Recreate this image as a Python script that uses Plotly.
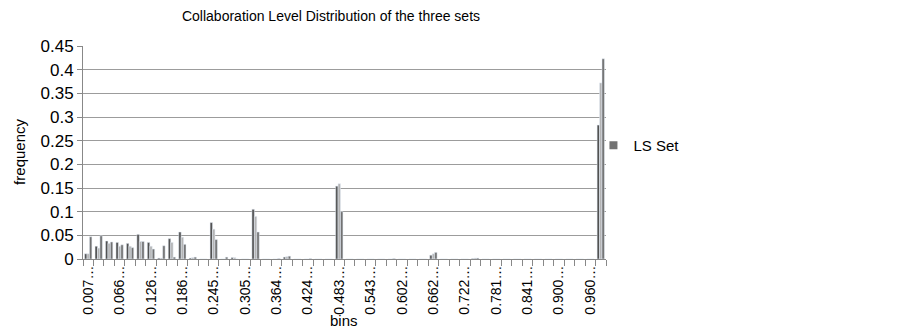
import plotly.graph_objects as go

# Bin categories (lower edges of the collaboration-level bins)
bins = ["0.0070", "0.0269", "0.0467", "0.0666", "0.0864", "0.1063", "0.1261", "0.1460",
        "0.1658", "0.1857", "0.2055", "0.2254", "0.2452", "0.2651", "0.2850", "0.3048",
        "0.3247", "0.3445", "0.3644", "0.3842", "0.4041", "0.4239", "0.4438", "0.4636",
        "0.4835", "0.5034", "0.5232", "0.5431", "0.5629", "0.5828", "0.6026", "0.6225",
        "0.6423", "0.6622", "0.6820", "0.7019", "0.7217", "0.7416", "0.7615", "0.7813",
        "0.8012", "0.8210", "0.8409", "0.8607", "0.8806", "0.9004", "0.9203", "0.9401",
        "0.9600", "0.9798"]

tick_labels = ["0.007…", "0.066…", "0.126…", "0.186…", "0.245…", "0.305…", "0.364…",
               "0.424…", "0.483…", "0.543…", "0.602…", "0.662…", "0.722…", "0.781…",
               "0.841…", "0.900…", "0.960…"]

set1 = [0.011, 0.027, 0.038, 0.035, 0.033, 0.052, 0.035, 0.002, 0.043, 0.057,
        0.002, 0.0, 0.077, 0.0, 0.003, 0.0, 0.105, 0.0, 0.0, 0.004,
        0.0, 0.0, 0.0, 0.0, 0.154, 0.0, 0.0, 0.0, 0.0, 0.0,
        0.0, 0.0, 0.0, 0.008, 0.0, 0.0, 0.0, 0.001, 0.0, 0.0,
        0.0, 0.0, 0.0, 0.0, 0.0, 0.0, 0.0, 0.0, 0.0, 0.283]

set2 = [0.011, 0.023, 0.033, 0.027, 0.027, 0.037, 0.027, 0.002, 0.035, 0.046,
        0.003, 0.0, 0.063, 0.0, 0.003, 0.0, 0.090, 0.0, 0.0, 0.005,
        0.0, 0.0, 0.0, 0.0, 0.159, 0.0, 0.0, 0.0, 0.0, 0.0,
        0.0, 0.0, 0.0, 0.011, 0.0, 0.0, 0.0, 0.002, 0.0, 0.0,
        0.0, 0.0, 0.0, 0.0, 0.0, 0.0, 0.0, 0.0, 0.0, 0.372]

ls_set = [0.047, 0.049, 0.036, 0.030, 0.024, 0.037, 0.021, 0.028, 0.004, 0.031,
          0.004, 0.0, 0.041, 0.004, 0.0, 0.0, 0.057, 0.0, 0.001, 0.006,
          0.0, 0.001, 0.0, 0.0, 0.100, 0.0, 0.0, 0.0, 0.0, 0.001,
          0.0, 0.0, 0.0, 0.014, 0.0, 0.0, 0.0, 0.002, 0.0, 0.0,
          0.0, 0.0, 0.0, 0.0, 0.0, 0.0, 0.0, 0.0, 0.0, 0.423]

FONT = "Liberation Sans, Arial, sans-serif"
LS_COLOR = "#727272"

# The page body has an 8px margin, so the figure is 8px smaller and offset.
W, H = 895, 323
ML, MT, MR, MB = 75, 38, 297, 72
PH = H - MT - MB

fig = go.Figure()
fig.add_trace(go.Bar(x=bins, y=set1, marker_color="#525252", showlegend=False, name="Set 1"))
fig.add_trace(go.Bar(x=bins, y=set2, marker_color="#b4b4b4", showlegend=False, name="Set 2"))
fig.add_trace(go.Bar(x=bins, y=ls_set, marker_color=LS_COLOR, showlegend=False, name="LS Set"))
# legend entry with a small square symbol
fig.add_trace(go.Scatter(x=[None], y=[None], mode="markers", name="LS Set",
                         marker=dict(symbol="square", size=8, color=LS_COLOR)))

ticktext = []
for i, b in enumerate(bins):
    ticktext.append(tick_labels[i // 3] if i % 3 == 0 else "")

fig.update_layout(
    width=W, height=H,
    margin=dict(l=ML, r=MR, t=MT, b=MB),
    paper_bgcolor="white", plot_bgcolor="white",
    font=dict(family=FONT, color="black"),
    barmode="group", bargap=0.3, bargroupgap=0.0,
    title=dict(text="Collaboration Level Distribution of the three sets",
               x=(331 - 8) / W, xanchor="center", xref="container",
               y=1 - 3.5 / H, yanchor="top", yref="container",
               pad=dict(t=0, b=0, l=0, r=0),
               font=dict(size=14, family=FONT, color="black")),
    legend=dict(x=0.976, y=(259.5 - 146) / PH, xanchor="left", yanchor="middle",
                font=dict(size=15, family=FONT), bgcolor="rgba(0,0,0,0)",
                itemwidth=30),
    xaxis=dict(
        type="category", tickmode="array", tickvals=bins, ticktext=ticktext,
        tickangle=-90, tickson="boundaries", ticks="outside", ticklen=6,
        tickcolor="#888888", showline=True, linecolor="#888888", showgrid=False,
        tickfont=dict(size=14, family=FONT), automargin=False,
    ),
    yaxis=dict(
        range=[0, 0.45], dtick=0.05, tick0=0, ticks="outside", ticklen=5,
        tickcolor="#888888", showline=True, linecolor="#888888",
        showgrid=True, gridcolor="#9c9c9c", gridwidth=1, zeroline=False,
        tickfont=dict(size=17, family=FONT), automargin=False,
    ),
    annotations=[
        dict(text="frequency", xref="paper", yref="paper", x=(20 - 83.5) / 522, y=(259.5 - 152) / PH,
             xanchor="center", yanchor="middle", textangle=-90, showarrow=False,
             font=dict(size=15, family=FONT)),
        dict(text="bins", xref="paper", yref="paper", x=(344 - 83.5) / 522, y=-(321 - 259.5) / PH,
             xanchor="center", yanchor="middle", showarrow=False,
             font=dict(size=15, family=FONT)),
    ],
)

fig.write_html("out.html")
